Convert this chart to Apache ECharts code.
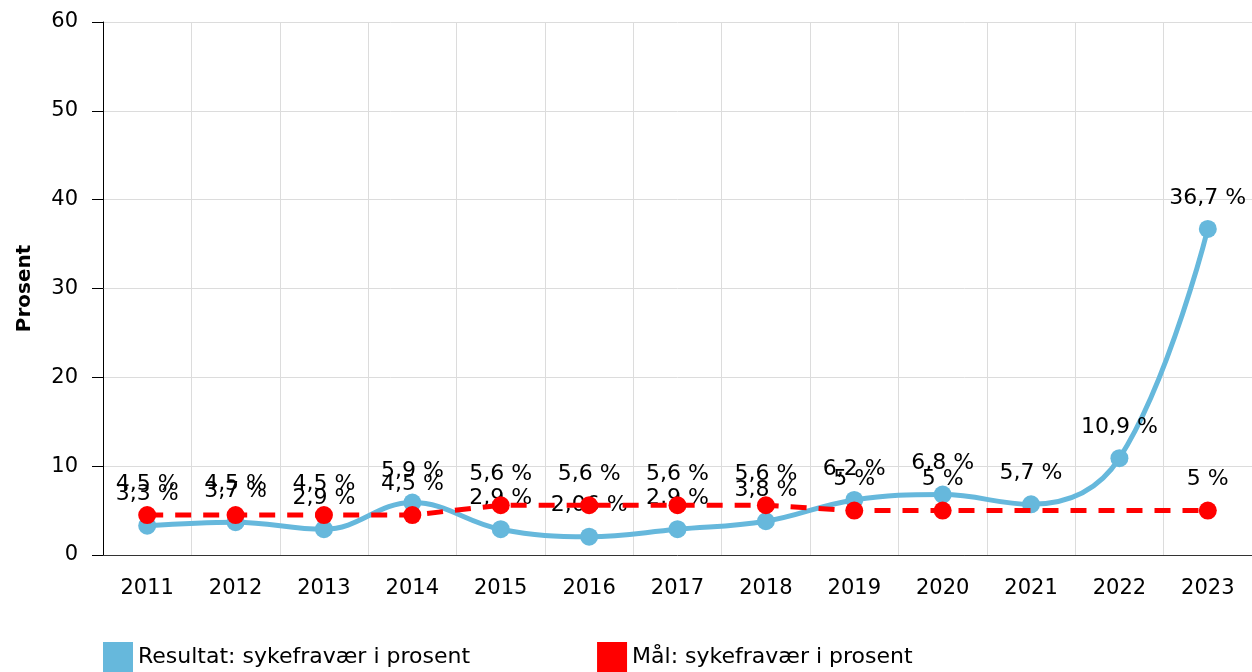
<!DOCTYPE html>
<html>
<head>
<meta charset="utf-8">
<script src="https://cdn.jsdelivr.net/npm/echarts@6/dist/echarts.min.js"></script>
<style>
  html, body { margin: 0; padding: 0; background: #fff; }
  #chart { width: 1252px; height: 672px; }
</style>
</head>
<body>
<div id="chart"></div>
<script>
var years = ['2011', '2012', '2013', '2014', '2015', '2016', '2017', '2018', '2019', '2020', '2021', '2022', '2023'];
var resultat = [3.3, 3.7, 2.9, 5.9, 2.9, 2.06, 2.9, 3.8, 6.2, 6.8, 5.7, 10.9, 36.7];
var maal = [4.5, 4.5, 4.5, 4.5, 5.6, 5.6, 5.6, 5.6, 5, 5, null, null, 5];
var yTicks = [0, 10, 20, 30, 40, 50, 60];

var font = '"DejaVu Sans", Verdana, sans-serif';

function pct(p) {
	return String(p.value).replace('.', ',') + ' %';
}

var chart = echarts.init(document.getElementById('chart'));
chart.setOption({
	animation: false,
	textStyle: { fontFamily: font },
	grid: { left: 103, right: 0, top: 22, bottom: 117 },
	legend: {
		top: 642,
		left: 103,
		itemGap: 127,
		itemWidth: 30,
		itemHeight: 30,
		icon: 'rect',
		padding: 0,
		textStyle: { fontFamily: font, fontSize: 22, color: '#000' },
		data: [
			{ name: 'Resultat: sykefravær i prosent' },
			{ name: 'Mål: sykefravær i prosent' }
		]
	},
	xAxis: {
		type: 'category',
		data: years,
		boundaryGap: true,
		axisLine: { lineStyle: { color: '#333', width: 1 } },
		axisTick: { alignWithLabel: true, length: 8, lineStyle: { color: '#999' } },
		axisLabel: { color: '#000', fontSize: 21, margin: 23, fontFamily: font },
		splitLine: { show: true, lineStyle: { color: '#dcdcdc' } }
	},
	yAxis: {
		type: 'value',
		min: yTicks[0],
		max: yTicks[yTicks.length - 1],
		interval: 10,
		name: 'Prosent',
		nameLocation: 'middle',
		nameGap: 68,
		nameTextStyle: { fontFamily: font, fontSize: 20, fontWeight: 'bold', color: '#000' },
		axisLine: { show: true, lineStyle: { color: '#000' } },
		axisTick: { show: true, length: 11, lineStyle: { color: '#000' } },
		axisLabel: { color: '#000', fontSize: 21, margin: 25, fontFamily: font },
		splitLine: { lineStyle: { color: '#dcdcdc' } }
	},
	series: [
		{
			name: 'Resultat: sykefravær i prosent',
			type: 'line',
			data: resultat,
			smooth: 0.4,
			color: '#66b8dc',
			lineStyle: { width: 5, color: '#66b8dc' },
			symbol: 'circle',
			symbolSize: 18,
			itemStyle: { color: '#66b8dc' },
			label: {
				show: true,
				position: 'top',
				distance: 11,
				formatter: pct,
				color: '#000',
				fontSize: 22,
				fontFamily: font
			},
			z: 2
		},
		{
			name: 'Mål: sykefravær i prosent',
			type: 'line',
			data: maal,
			connectNulls: true,
			color: '#ff0000',
			lineStyle: { width: 5, color: '#ff0000', type: [16, 12] },
			symbol: 'circle',
			symbolSize: 18,
			itemStyle: { color: '#ff0000' },
			label: {
				show: true,
				position: 'top',
				distance: 11,
				formatter: pct,
				color: '#000',
				fontSize: 22,
				fontFamily: font
			},
			z: 3
		}
	]
});
</script>
</body>
</html>
